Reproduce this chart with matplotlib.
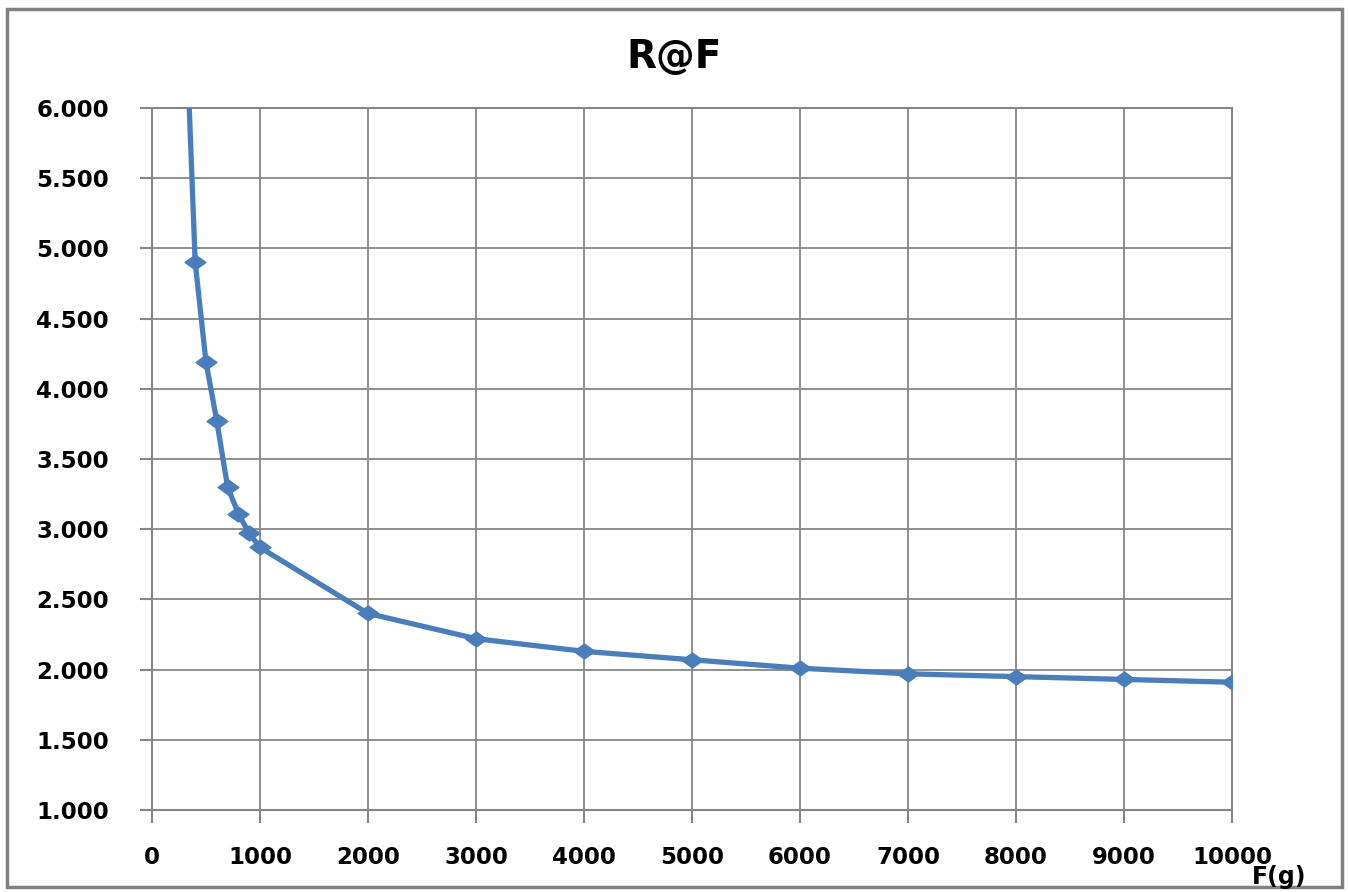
import matplotlib
matplotlib.use("Agg")
import matplotlib.pyplot as plt
from matplotlib.patches import Rectangle
from matplotlib.path import Path
from matplotlib.ticker import FormatStrFormatter

force_g = [300, 400, 500, 600, 700, 800, 900, 1000, 2000, 3000, 4000, 5000,
           6000, 7000, 8000, 9000, 10000]
resistance = [6.9, 4.90, 4.19, 3.77, 3.30, 3.11, 2.97, 2.87, 2.40, 2.22, 2.13,
              2.07, 2.01, 1.97, 1.95, 1.93, 1.91]
x_ticks = [0, 1000, 2000, 3000, 4000, 5000, 6000, 7000, 8000, 9000, 10000]
y_ticks = [1.0, 1.5, 2.0, 2.5, 3.0, 3.5, 4.0, 4.5, 5.0, 5.5, 6.0]
title = "R@F"
xlabel = "F(g)"

plt.rcParams['font.family'] = ['DejaVu Sans']
W, H = 1348, 892
fig = plt.figure(figsize=(W / 100, H / 100), dpi=100)
ax = fig.add_axes([152 / W, (H - 810) / H, 1080 / W, 702 / H])

blue = "#4a7ebb"
grid_c = "#868686"
diamond = Path([(-1, 0), (0, 0.72), (1, 0), (0, -0.72), (-1, 0)],
               [Path.MOVETO, Path.LINETO, Path.LINETO, Path.LINETO, Path.CLOSEPOLY])
ax.plot(force_g, resistance, color=blue, lw=3.8, marker=diamond, markersize=15,
        markerfacecolor=blue, markeredgecolor=blue, zorder=3)

ax.set_xlim(0, 10000)
ax.set_ylim(1.0, 6.0)
ax.set_xticks(x_ticks)
ax.set_yticks(y_ticks)
ax.yaxis.set_major_formatter(FormatStrFormatter("%.3f"))
ax.grid(True, color=grid_c, lw=1.3)
ax.set_axisbelow(True)
for s in ax.spines.values():
    s.set_color(grid_c)
    s.set_linewidth(1.5)
ax.tick_params(axis="both", direction="out", length=9, width=1.5, color=grid_c,
               labelsize=16.5)
ax.tick_params(axis="y", pad=22)
ax.tick_params(axis="x", pad=17)
for lab in ax.get_xticklabels() + ax.get_yticklabels():
    lab.set_fontweight("bold")

fig.text(674 / W, 1 - 57 / H, title, ha="center", va="center",
         fontsize=28, fontweight="bold")
fig.text(1279 / W, 1 - 877 / H, xlabel, ha="center", va="center",
         fontsize=17, fontweight="bold")

fig.patches.append(Rectangle((7 / W, 5 / H), (1342 - 7) / W, (885 - 7) / H,
                             transform=fig.transFigure, fill=False,
                             edgecolor="#808080", lw=2.5))

fig.savefig("out.png", dpi=100)
